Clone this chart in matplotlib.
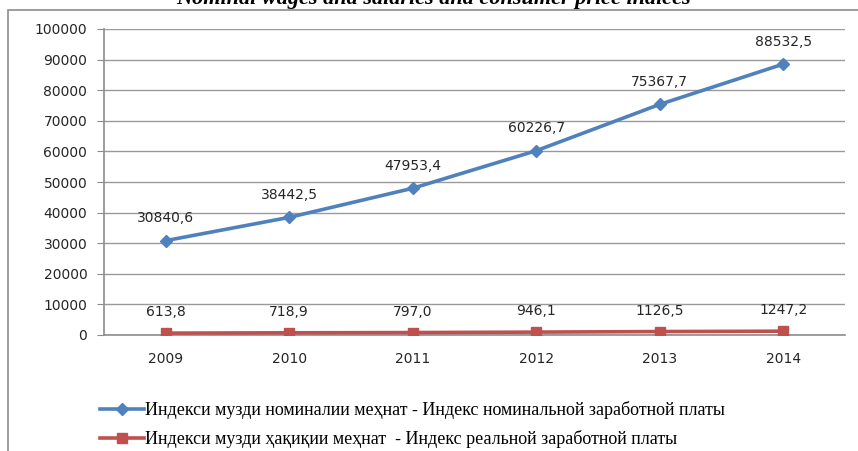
import numpy as np
import matplotlib.pyplot as plt
from matplotlib.patches import Rectangle

years = ["2009", "2010", "2011", "2012", "2013", "2014"]
nominal = [30840.6, 38442.5, 47953.4, 60226.7, 75367.7, 88532.5]
real = [613.8, 718.9, 797.0, 946.1, 1126.5, 1247.2]
label_nominal = "Индекси музди номиналии меҳнат - Индекс номинальной заработной платы"
label_real = "Индекси музди ҳақиқии меҳнат  - Индекс реальной заработной платы"
title = "Nominal wages and salaries and consumer price indices"

W, H = 858, 451
fig = plt.figure(figsize=(W / 100, H / 100), dpi=100)

# outer chart frame (cropped on right/bottom)
fig.patches.append(Rectangle((8 / W, -0.1), 1.2, 1 - 10 / H + 0.1,
                             transform=fig.transFigure, fill=False,
                             edgecolor="#8c8c8c", linewidth=1.2))

# cropped title at the very top
fig.text(434 / W, 1 - 4 / H, title, ha="center", va="baseline",
         family="Liberation Serif", style="italic", weight="bold",
         fontsize=16, color="black")

ax = fig.add_axes([104 / W, 1 - 335 / H, (845 - 104) / W, (335 - 29) / H])
x = np.arange(len(years))

ax.plot(x, nominal, color="#4F81BD", linewidth=2.6, marker="D", markersize=6.5,
        label=label_nominal, zorder=3)
ax.plot(x, real, color="#C0504D", linewidth=2.6, marker="s", markersize=7.5,
        label=label_real, zorder=3)

def fmt(v):
    return f"{v:.1f}".replace(".", ",")

for xi, v in zip(x, nominal):
    ax.annotate(fmt(v), (xi, v), xytext=(0, 16), textcoords="offset points",
                ha="center", va="center", fontsize=10, color="#262626")
for xi, v in zip(x, real):
    ax.annotate(fmt(v), (xi, v), xytext=(0, 15), textcoords="offset points",
                ha="center", va="center", fontsize=10, color="#262626")

ax.set_xlim(-0.5, 5.5)
ax.set_ylim(0, 100000)
ax.set_yticks(np.arange(0, 100001, 10000))
ax.set_xticks(x)
ax.set_xticklabels(years)
ax.tick_params(axis="y", length=5, color="#8c8c8c", labelsize=10,
               labelcolor="#262626", pad=7)
ax.tick_params(axis="x", length=0, labelsize=10, labelcolor="#262626", pad=12)
ax.grid(axis="y", color="#9a9a9a", linewidth=1)
ax.set_axisbelow(True)
for s in ["top", "right"]:
    ax.spines[s].set_visible(False)
for s in ["left", "bottom"]:
    ax.spines[s].set_color("#8c8c8c")
    ax.spines[s].set_linewidth(1.2)

leg = fig.legend(loc="upper left", bbox_to_anchor=(93 / W, 1 - 394 / H),
                 frameon=False, prop={"family": "Liberation Serif", "size": 13},
                 handlelength=2.4, handletextpad=0.1, labelspacing=0.6,
                 borderaxespad=0)

fig.savefig("out.png", dpi=100)
